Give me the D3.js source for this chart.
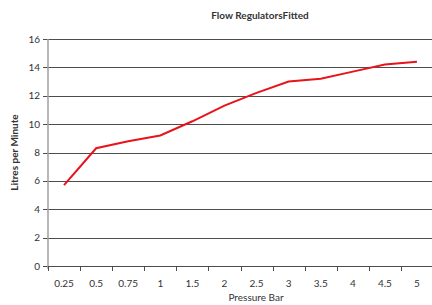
<!DOCTYPE html>
<html>
<head>
<meta charset="utf-8">
<script src="https://cdn.jsdelivr.net/npm/d3@7"></script>
<style>
body{margin:0;background:#fff;}
text{font-family:Lato,"Open Sans",sans-serif;fill:#333;}
</style>
</head>
<body>
<div id="chart"></div>
<script>
var categories=["0.25","0.5","0.75","1","1.5","2","2.5","3","3.5","4","4.5","5"];
var flow=[5.7,8.3,8.8,9.2,10.2,11.3,12.2,13.0,13.2,13.7,14.2,14.4];
var yTicks=[0,2,4,6,8,10,12,14,16];

var width=432,height=305;
var margin={top:39,right:-1,bottom:39,left:48};

var svg=d3.select('#chart').append('svg')
    .attr('width',width)
    .attr('height',height);

var x=d3.scaleBand()
    .domain(categories)
    .range([margin.left,width-margin.right]);
var y=d3.scaleLinear()
    .domain([0,16])
    .range([height-margin.bottom,margin.top]);

// gridlines
svg.append('g').selectAll('line')
    .data(yTicks)
    .enter().append('line')
    .attr('x1',margin.left-5)
    .attr('x2',width)
    .attr('y1',function(d){return Math.round(y(d))+0.5;})
    .attr('y2',function(d){return Math.round(y(d))+0.5;})
    .attr('stroke','#4d4d4d')
    .attr('stroke-width',1);

// y labels
svg.append('g').selectAll('text')
    .data(yTicks)
    .enter().append('text')
    .attr('x',margin.left-8)
    .attr('y',function(d){return y(d);})
    .attr('dy','0.35em')
    .attr('text-anchor','end')
    .attr('font-size',10)
    .text(function(d){return d;});

// y axis line
svg.append('line')
    .attr('x1',margin.left).attr('x2',margin.left)
    .attr('y1',y(16)).attr('y2',y(0)+3)
    .attr('stroke','#a0a0a0')
    .attr('stroke-width',1.5);

// x ticks
svg.append('g').selectAll('line')
    .data(categories)
    .enter().append('line')
    .attr('x1',function(d){return Math.round(x(d))+0.5;})
    .attr('x2',function(d){return Math.round(x(d))+0.5;})
    .attr('y1',y(0))
    .attr('y2',y(0)+5)
    .attr('stroke','#4d4d4d');

svg.append('g').selectAll('text')
    .data(categories)
    .enter().append('text')
    .attr('x',function(d){return x(d)+x.bandwidth()/2;})
    .attr('y',y(0)+21)
    .attr('text-anchor','middle')
    .attr('font-size',10)
    .text(function(d){return d;});

// line
var line=d3.line()
    .x(function(d,i){return x(categories[i])+x.bandwidth()/2;})
    .y(function(d){return y(d);});
svg.append('path')
    .datum(flow)
    .attr('fill','none')
    .attr('stroke','#e8131b')
    .attr('stroke-width',2)
    .attr('d',line);

// titles
svg.append('text')
    .attr('x',260).attr('y',19)
    .attr('text-anchor','middle')
    .attr('font-size',10)
    .attr('font-weight','bold')
    .text('Flow RegulatorsFitted');

svg.append('text')
    .attr('transform','translate(18,'+(y(8))+') rotate(-90)')
    .attr('text-anchor','middle')
    .attr('font-size',10)
    .attr('font-weight','bold')
    .text('Litres per Minute');

svg.append('text')
    .attr('x',256).attr('y',301)
    .attr('text-anchor','middle')
    .attr('font-size',10)
    .text('Pressure Bar');
</script>
</body>
</html>
